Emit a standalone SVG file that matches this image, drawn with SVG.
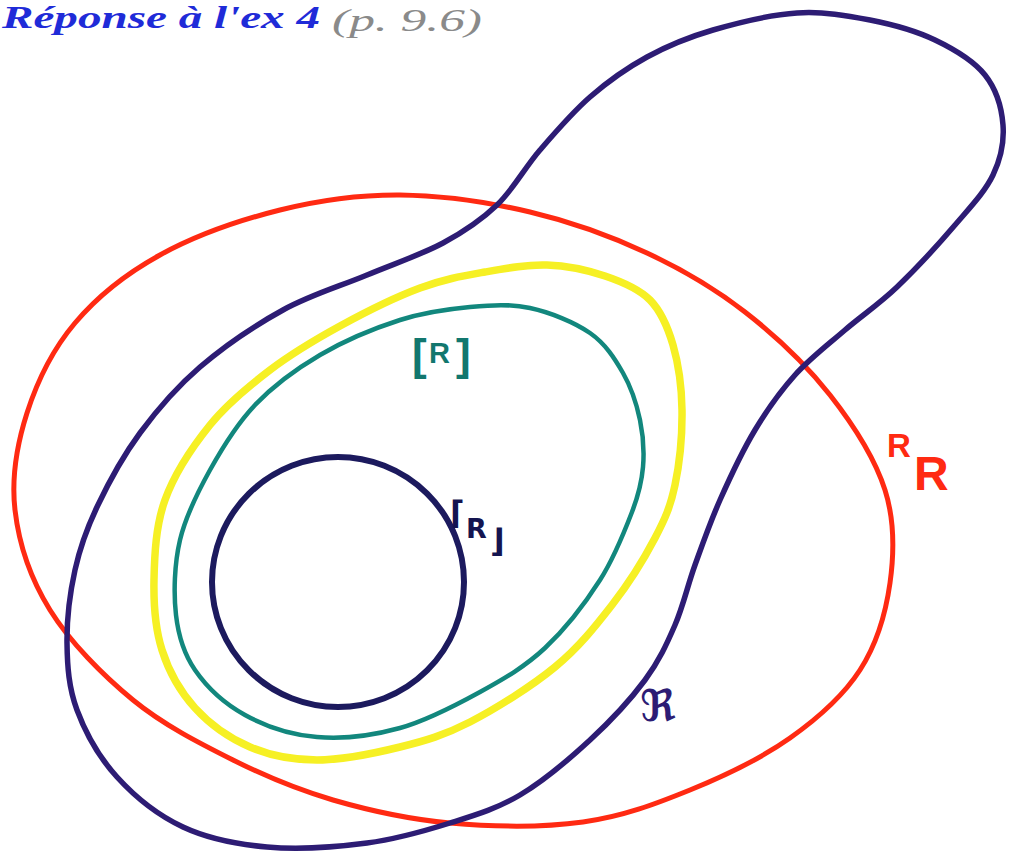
<svg xmlns="http://www.w3.org/2000/svg" width="1024" height="851" viewBox="0 0 1024 851">
<style>
.curve{fill:none;stroke-linecap:round;stroke-linejoin:round}
.red{stroke:#ff2a12;stroke-width:5}
.purple{stroke:#2d1c74;stroke-width:5.5}
.yellow{stroke:#f6f024;stroke-width:7.5}
.teal{stroke:#12877d;stroke-width:4.5}
.navy{stroke:#1c1a5e;stroke-width:6}
.lbl{font-family:"Liberation Sans","DejaVu Sans",sans-serif;font-weight:bold}
.title{font-family:"Liberation Serif","DejaVu Serif",serif;font-style:italic;font-size:32px}
</style>
<rect width="1024" height="851" fill="#ffffff"/>
<g id="title">
<text class="title" x="2" y="28" fill="#1f2bd8" font-weight="bold" textLength="318" lengthAdjust="spacingAndGlyphs">Réponse à l'ex 4</text>
<text class="title" x="332" y="31" fill="#8a8a8a" textLength="150" lengthAdjust="spacingAndGlyphs">(p. 9.6)</text>
</g>
<g id="set-RR">
<path class="curve red" d="M400,195 C441.7,195.3 488.8,202.3 530,212 C571.2,221.7 611.2,236.3 647,253 C682.8,269.7 714.5,288.3 745,312 C775.5,335.7 806.7,365.3 830,395 C853.3,424.7 875,458.7 885,490 C895,521.3 894.2,553 890,583 C885.8,613 876.7,644.2 860,670 C843.3,695.8 818.3,718 790,738 C761.7,758 724.5,776 690,790 C655.5,804 623,816.5 583,822 C543,827.5 491.7,826.7 450,823 C408.3,819.3 369.2,810.5 333,800 C296.8,789.5 266.3,776.7 233,760 C199.7,743.3 163.5,725 133,700 C102.5,675 69.7,641.7 50,610 C30.3,578.3 18.8,542.8 15,510 C11.2,477.2 17,444.2 27,413 C37,381.8 52.8,349.3 75,323 C97.2,296.7 125.8,273.8 160,255 C194.2,236.2 240,220 280,210 C320,200 358.3,194.7 400,195 Z"/>
<text class="lbl" fill="#ff2a12"><tspan x="887" y="457" font-size="33">R</tspan><tspan x="914" y="490" font-size="48">R</tspan></text>
</g>
<g id="set-fraktur-R">
<path class="curve purple" d="M497,205 C513.2,189.5 524.5,168 540,150 C555.5,132 572.2,112.5 590,97 C607.8,81.5 626.5,68.2 647,57 C667.5,45.8 688,37.3 713,30 C738,22.7 770.8,14.7 797,13 C823.2,11.3 847,15.5 870,20 C893,24.5 915.8,30.8 935,40 C954.2,49.2 973.7,60.8 985,75 C996.3,89.2 1001.7,108.3 1003,125 C1004.3,141.7 1001,158.3 993,175 C985,191.7 971,206.3 955,225 C939,243.7 915.3,269.5 897,287 C878.7,304.5 862,315.3 845,330 C828,344.7 810,358.3 795,375 C780,391.7 767.5,409.2 755,430 C742.5,450.8 730,477.5 720,500 C710,522.5 702.5,544.2 695,565 C687.5,585.8 683.3,605.8 675,625 C666.7,644.2 659.2,660.8 645,680 C630.8,699.2 610.8,720.8 590,740 C569.2,759.2 543.3,781.2 520,795 C496.7,808.8 475.5,815 450,823 C424.5,831 397.5,839 367,843 C336.5,847 297.7,849.7 267,847 C236.3,844.3 208,838.7 183,827 C158,815.3 134.7,796.5 117,777 C99.3,757.5 85.3,732.3 77,710 C68.7,687.7 67.3,666.3 67,643 C66.7,619.7 70,592.7 75,570 C80,547.3 86.2,529.8 97,507 C107.8,484.2 122.8,456.3 140,433 C157.2,409.7 176.2,387.5 200,367 C223.8,346.5 255.2,325.3 283,310 C310.8,294.7 340.3,286.2 367,275 C393.7,263.8 421.3,254.7 443,243 C464.7,231.3 480.8,220.5 497,205 Z"/>
<text x="640" y="721" style="font-family:'DejaVu Serif','DejaVu Sans',serif;font-size:44px;font-weight:bold" fill="#2d1c74">ℜ</text>
</g>
<g id="set-yellow">
<path class="curve yellow" d="M547,265 C567,265.7 587.8,270.2 605,276 C622.2,281.8 638.7,288.5 650,300 C661.3,311.5 667.7,326.7 673,345 C678.3,363.3 681.7,386.7 682,410 C682.3,433.3 679.5,463.7 675,485 C670.5,506.3 665.5,518 655,538 C644.5,558 628.7,583.5 612,605 C595.3,626.5 578.7,647.5 555,667 C531.3,686.5 495.8,708.7 470,722 C444.2,735.3 425.5,740.7 400,747 C374.5,753.3 342,760 317,760 C292,760 270.3,755.7 250,747 C229.7,738.3 209.7,724.2 195,708 C180.3,691.8 168.8,671.3 162,650 C155.2,628.7 153.5,605 154,580 C154.5,555 155.7,525.8 165,500 C174.3,474.2 192.5,446.7 210,425 C227.5,403.3 248.3,386.5 270,370 C291.7,353.5 315,339.7 340,326 C365,312.3 395.8,297 420,288 C444.2,279 463.8,275.8 485,272 C506.2,268.2 527,264.3 547,265 Z"/>
</g>
<g id="set-bracket-R">
<path class="curve teal" d="M530,308 C550,312.3 574.5,322.2 590,333 C605.5,343.8 614.7,358.5 623,373 C631.3,387.5 636.7,404.3 640,420 C643.3,435.7 644.3,451.7 643,467 C641.7,482.3 639.2,493.2 632,512 C624.8,530.8 614.5,557.3 600,580 C585.5,602.7 565,629.3 545,648 C525,666.7 504.2,678.7 480,692 C455.8,705.3 427.2,720.5 400,728 C372.8,735.5 342.8,739.2 317,737 C291.2,734.8 265.3,726.2 245,715 C224.7,703.8 206.5,686.7 195,670 C183.5,653.3 178.5,636.7 176,615 C173.5,593.3 174.3,564.2 180,540 C185.7,515.8 197.5,492.5 210,470 C222.5,447.5 236.7,424.2 255,405 C273.3,385.8 295.8,369.2 320,355 C344.2,340.8 375,328 400,320 C425,312 448.3,309 470,307 C491.7,305 510,303.7 530,308 Z"/>
<text class="lbl" fill="#12776e"><tspan x="412" y="370" font-size="44">[</tspan><tspan x="429" y="363" font-size="29">R</tspan><tspan x="456" y="370" font-size="44">]</tspan></text>
</g>
<g id="set-corner-R">
<ellipse class="curve navy" cx="338" cy="582" rx="126" ry="125"/>
<text fill="#141450" style="font-family:'DejaVu Sans',sans-serif;font-weight:bold"><tspan x="450" y="524" font-size="32">⌈</tspan><tspan x="466" y="538" font-size="27">R</tspan><tspan x="490" y="552" font-size="32">⌋</tspan></text>
</g>
</svg>
